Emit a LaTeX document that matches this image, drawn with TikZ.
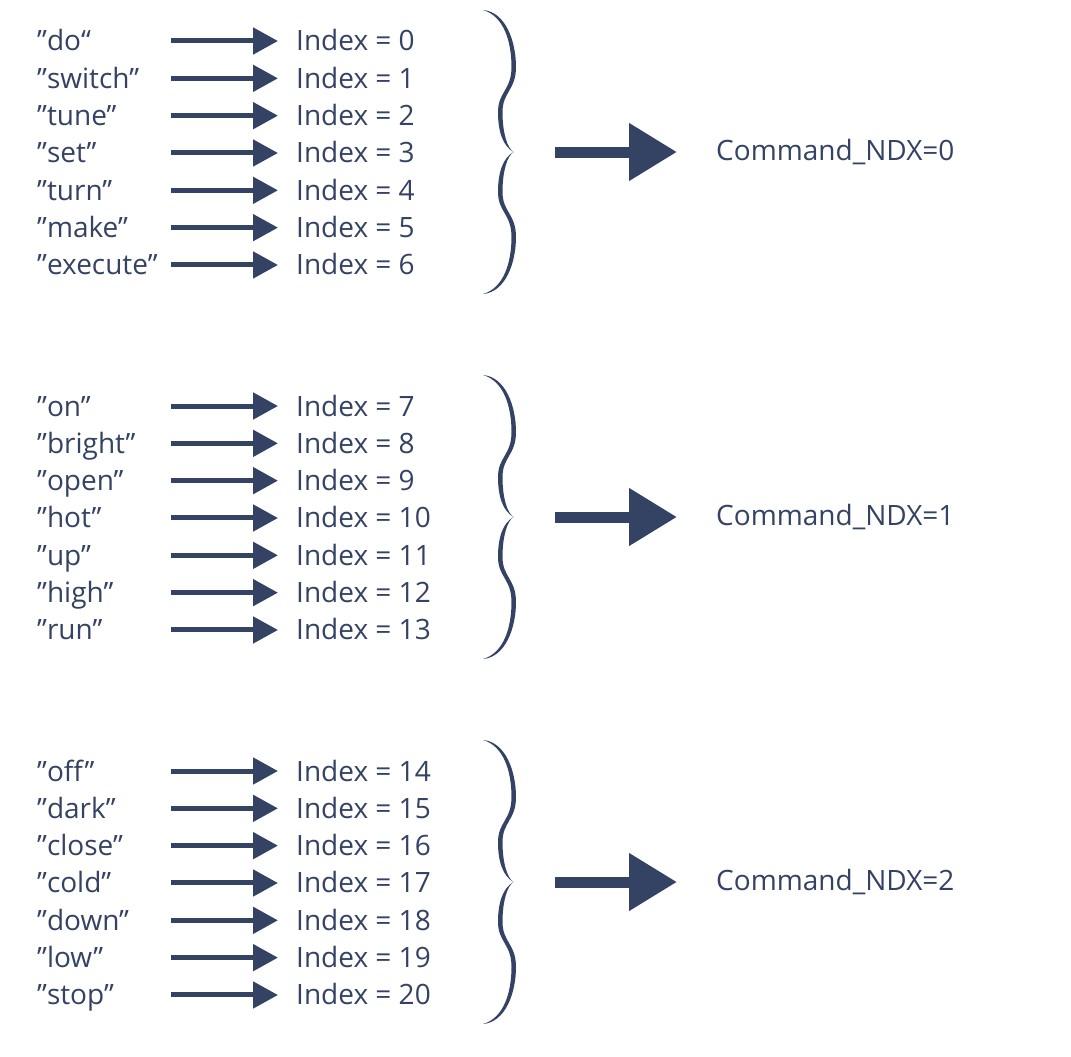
\documentclass[tikz,border=0pt]{standalone}
\usepackage{fontspec}
\setmainfont{Open Sans}
\usetikzlibrary{arrows.meta}
\definecolor{navy}{RGB}{52,66,99}
\begin{document}
\begin{tikzpicture}[x=1pt,y=-1pt,
  lbl/.style={anchor=base west, inner sep=0pt, text=navy, font=\fontsize{28}{28}\selectfont},
  smallarr/.style={draw=navy, line width=5pt, -{Triangle[length=25pt,width=26pt]}, shorten >=18pt},
  bigarr/.style={draw=navy, line width=11pt, -{Triangle[length=48pt,width=55pt]}, shorten >=39pt},
  halfbrace/.pic={\fill[navy] (-30,-142) .. controls (-7,-140) and (3,-110) .. (3,-85)
     .. controls (3,-62) and (-10.5,-60) .. (-10.5,-40)
     .. controls (-10.5,-20) and (-6,-4) .. (0.5,0)
     .. controls (-10,-6) and (-15,-20) .. (-15,-40)
     .. controls (-15,-60) and (-1.5,-62) .. (-1.5,-85)
     .. controls (-1.5,-110) and (-9,-136) .. (-30,-142) -- cycle;}
  ]
\useasboundingbox (0,0) rectangle (1071,1057);
\foreach \w [count=\i from 0] in {do“,switch”,tune”,set”,turn”,make”,execute”,on”,bright”,open”,hot”,up”,high”,run”,off”,dark”,close”,cold”,down”,low”,stop”}{
  \pgfmathtruncatemacro\g{\i/7}
  \pgfmathtruncatemacro\r{\i-7*\g}
  \pgfmathsetmacro\yy{41+365*\g+37.33*\r}
  \node[lbl] (w\i) at (37,\yy+10) {”\w};
  \node[lbl] (x\i) at (296,\yy+10) {Index = \i};
  \coordinate (s\i) at (171,\yy);
  \draw[smallarr] (s\i) -- (x\i.west |- s\i);
}
\foreach \g in {0,1,2}{
  \pgfmathsetmacro\cc{152+365*\g}
  \node[lbl] (c\g) at (716,\cc+8) {Command\_NDX=\g};
  \coordinate (b\g) at (555,\cc);
  \draw[bigarr] (b\g) -- (c\g.west |- b\g);
  \pic at (513,\cc) {halfbrace};
  \pic[yscale=-1] at (513,\cc) {halfbrace};
}
\end{tikzpicture}
\end{document}
